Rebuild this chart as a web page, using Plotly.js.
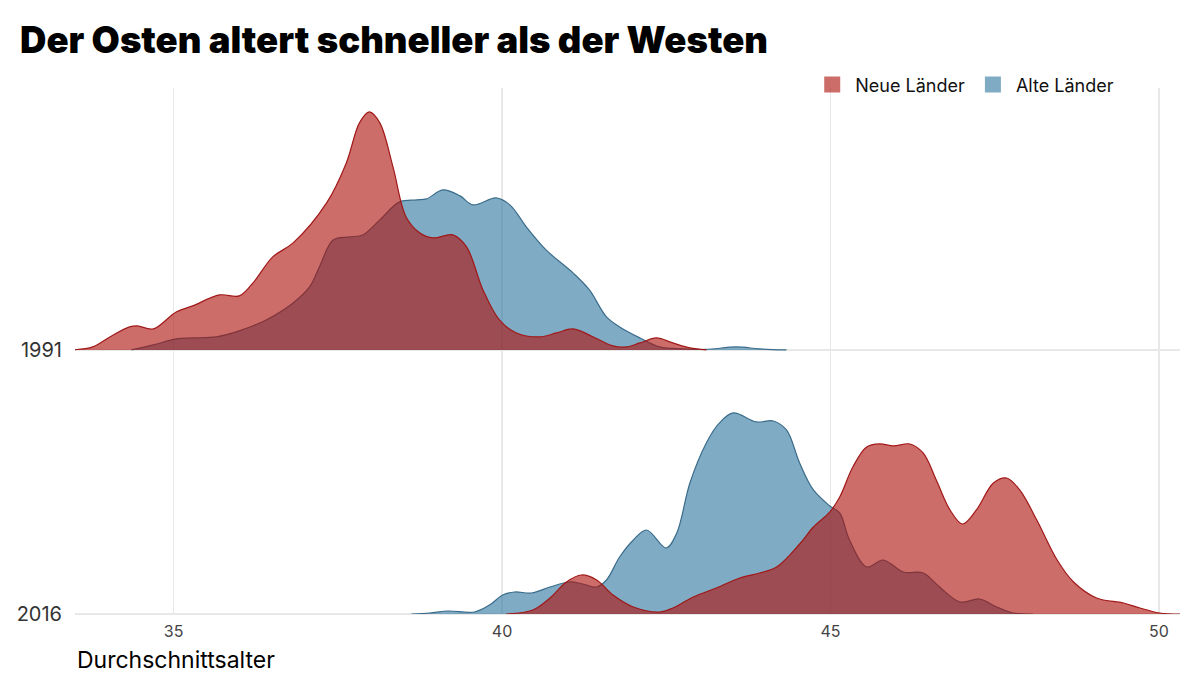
<!DOCTYPE html>
<html>
<head>
<meta charset="utf-8">
<script src="https://cdn.plot.ly/plotly-3.0.1.min.js"></script>
<style>
  html, body { margin: 0; padding: 0; background: #ffffff; }
  #chart { width: 1200px; height: 692px; }
</style>
</head>
<body>
<div id="chart"></div>
<script>
// ---- data (relative density heights) ----
const jahre = ['1991', '2016'];
const jahrBasis = [1, 0];           // row position of each year

const alterOst1991 = [33.45, 33.77, 34.03, 34.33, 34.45, 34.69, 35.04, 35.29, 35.70, 36.00, 36.21, 36.51, 36.82, 37.33, 37.63, 37.83, 37.98, 38.14, 38.34, 38.54, 38.75, 38.95, 39.25, 39.46, 39.71, 39.96, 40.22, 40.57, 40.83, 41.08, 41.39, 41.69, 41.89, 42.10, 42.35, 42.60, 42.86, 43.11];
const dichteOst1991 = [0, 3, 13, 23, 24, 21, 38, 44, 55, 54, 67, 93, 107, 147, 187, 227, 238, 227, 183, 133, 117, 112, 115, 103, 60, 30, 17, 13, 17, 21, 13, 4, 3, 7, 12, 7, 2, 0];

const alterWest1991 = [34.36, 34.69, 35.04, 35.29, 35.65, 36.00, 36.41, 36.82, 37.07, 37.22, 37.43, 37.68, 37.88, 38.14, 38.44, 38.70, 38.85, 39.10, 39.36, 39.56, 39.91, 40.12, 40.37, 40.67, 41.08, 41.33, 41.59, 41.79, 42.10, 42.40, 42.76, 43.10, 43.57, 43.92, 44.33];
const dichteWest1991 = [0, 5, 11, 12, 13, 19, 30, 47, 63, 83, 110, 113, 115, 130, 148, 150, 151, 160, 154, 145, 152, 145, 123, 100, 77, 60, 33, 23, 12, 3, 1, 0.5, 3, 1, 0];

const alterOst2016 = [40.06, 40.47, 40.73, 40.98, 41.21, 41.44, 41.69, 42.00, 42.40, 42.60, 42.91, 43.26, 43.62, 43.92, 44.18, 44.53, 44.74, 44.99, 45.14, 45.34, 45.55, 45.75, 45.96, 46.21, 46.41, 46.61, 46.82, 47.01, 47.22, 47.48, 47.68, 47.88, 48.14, 48.45, 48.70, 49.05, 49.46, 49.71, 50.01, 50.32];
const dichteOst2016 = [0, 4, 16, 32, 39, 34, 19, 7, 2, 6, 17, 26, 36, 41, 47, 70, 87, 102, 117, 147, 167, 170, 168, 170, 161, 134, 104, 90, 104, 131, 136, 124, 94, 54, 32, 16, 11, 6, 1, 0];

const alterWest2016 = [38.62, 38.90, 39.18, 39.58, 39.81, 40.01, 40.19, 40.45, 40.73, 41.03, 41.23, 41.44, 41.59, 41.79, 42.00, 42.20, 42.50, 42.66, 42.86, 43.11, 43.31, 43.52, 43.87, 44.13, 44.33, 44.53, 44.74, 44.99, 45.14, 45.29, 45.55, 45.80, 46.11, 46.41, 46.66, 46.97, 47.27, 47.53, 47.78, 48.08];
const dichteWest2016 = [0, 1, 3, 2, 9, 19, 22, 21, 27, 32, 30, 27, 34, 57, 74, 84, 66, 81, 131, 171, 191, 201, 192, 193, 184, 151, 124, 108, 101, 74, 47, 54, 42, 41, 27, 12, 15, 7, 1, 0];

const xTicks = [35, 40, 45, 50];
const seriesNames = ['Neue Länder', 'Alte Länder'];

// ---- styling ----
const scale = 1 / 264;
const rotFill = 'rgba(173,16,10,0.61)';
const rotLine = 'rgb(160,24,24)';
const blauFill = 'rgba(48,117,158,0.61)';
const blauLine = 'rgb(58,108,138)';

function ridge(ages, dens, base, name, fill, line) {
  return {
    type: 'scatter',
    mode: 'lines',
    x: ages,
    y: dens.map(d => base + d * scale),
    fill: 'toself',
    fillcolor: fill,
    line: { color: line, width: 1.2, shape: 'spline', smoothing: 1 },
    name: name,
    legendgroup: name,
    showlegend: false,
    hoverinfo: 'skip'
  };
}

function legendKey(name, fill, rank) {
  return {
    type: 'scatter',
    mode: 'markers',
    x: [null], y: [null],
    name: name,
    legendgroup: name,
    legendrank: rank,
    showlegend: true,
    marker: { symbol: 'square', size: 19, color: fill, line: { width: 0 } },
    hoverinfo: 'skip'
  };
}

const traces = [
  ridge(alterWest1991, dichteWest1991, jahrBasis[0], seriesNames[1], blauFill, blauLine),
  ridge(alterWest2016, dichteWest2016, jahrBasis[1], seriesNames[1], blauFill, blauLine),
  ridge(alterOst1991, dichteOst1991, jahrBasis[0], seriesNames[0], rotFill, rotLine),
  ridge(alterOst2016, dichteOst2016, jahrBasis[1], seriesNames[0], rotFill, rotLine),
  legendKey(seriesNames[0], rotFill, 1),
  legendKey(seriesNames[1], blauFill, 2)
];

const layout = {
  width: 1200,
  height: 692,
  paper_bgcolor: '#ffffff',
  plot_bgcolor: '#ffffff',
  margin: { l: 75, r: 20, t: 88, b: 78 },
  font: { family: 'Inter, "Noto Sans", sans-serif', color: '#222' },
  title: {
    text: 'Der Osten altert schneller als der Westen',
    font: { family: 'Inter, "Noto Sans", sans-serif', size: 36.5, weight: 900, color: '#000' },
    xref: 'container', yref: 'container',
    x: 20 / 1200, xanchor: 'left',
    y: 1 - 40 / 692, yanchor: 'middle'
  },
  showlegend: true,
  legend: {
    orientation: 'h',
    x: 0.945, xanchor: 'right',
    y: 1.006, yanchor: 'middle',
    font: { size: 18, color: '#111' },
    bgcolor: 'rgba(0,0,0,0)',
    itemsizing: 'trace',
    itemwidth: 36,
    traceorder: 'normal'
  },
  xaxis: {
    range: [33.5, 50.32],
    tickvals: xTicks,
    ticktext: xTicks.map(String),
    showgrid: true,
    gridcolor: '#e8e8e8',
    gridwidth: 1.5,
    zeroline: false,
    showline: false,
    ticks: '',
    ticklabelstandoff: 6,
    tickfont: { size: 16, color: '#444' },
    fixedrange: true
  },
  yaxis: {
    range: [0, 1.992],
    tickvals: jahrBasis,
    ticktext: jahre,
    showgrid: true,
    gridcolor: '#e8e8e8',
    gridwidth: 1.5,
    zeroline: true,
    zerolinecolor: '#e8e8e8',
    zerolinewidth: 1.5,
    showline: false,
    ticks: '',
    ticklabelstandoff: 12,
    tickfont: { size: 20, color: '#333' },
    fixedrange: true
  },
  annotations: [{
    text: 'Durchschnittsalter',
    xref: 'paper', yref: 'paper',
    x: 0, xanchor: 'left',
    y: -46 / 526, yanchor: 'middle',
    showarrow: false,
    font: { size: 23, color: '#000' }
  }]
};

Plotly.newPlot('chart', traces, layout, { staticPlot: true, displayModeBar: false });
</script>
</body>
</html>
